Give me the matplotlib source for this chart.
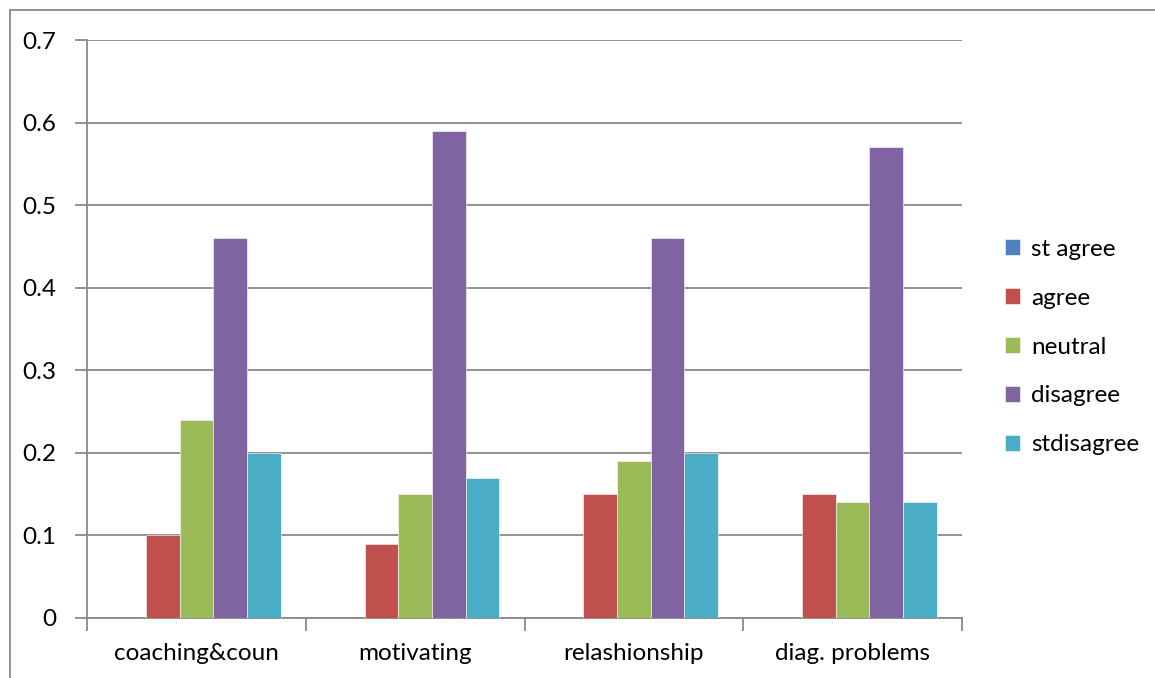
import numpy as np
import matplotlib
matplotlib.use("Agg")
import matplotlib.pyplot as plt
from matplotlib.patches import Rectangle

plt.rcParams['font.family'] = ['Lato', 'DejaVu Sans']

categories = ['coaching&coun', 'motivating', 'relashionship', 'diag. problems']
series_names = ['st agree', 'agree', 'neutral', 'disagree', 'stdisagree']
st_agree = [0, 0, 0, 0]
agree = [0.10, 0.09, 0.15, 0.15]
neutral = [0.24, 0.15, 0.19, 0.14]
disagree = [0.46, 0.59, 0.46, 0.57]
stdisagree = [0.20, 0.17, 0.20, 0.14]
colors = ['#4F81BD', '#C0504D', '#9BBB59', '#8064A2', '#4BACC6']


def draw_chart():
    fig = plt.figure(figsize=(11.55, 6.78), dpi=100)
    W, H = 1155, 678
    fs = 17.5
    # outer chart frame
    fig.patches.append(Rectangle((10 / W, -0.1), 1.2, 1 - 10 / H + 0.1, transform=fig.transFigure,
                                 fill=False, edgecolor='#898989', lw=1.3))
    ax = fig.add_axes([87 / W, 1 - 618 / H, (962 - 87) / W, (618 - 40) / H])

    data = [st_agree, agree, neutral, disagree, stdisagree]
    x = np.arange(len(categories))
    width = 1 / 6.5
    for i, vals in enumerate(data):
        offs = (i - 2) * width
        ax.bar(x + offs, vals, width=width, color=colors[i], edgecolor='white', lw=0.4,
               label=series_names[i], zorder=3)

    ax.set_xlim(-0.5, len(categories) - 0.5)
    ax.set_ylim(0, 0.7)
    ax.set_yticks(np.arange(0, 0.71, 0.1))
    ax.set_yticklabels(['0'] + ['%.1f' % v for v in np.arange(0.1, 0.71, 0.1)])
    ax.yaxis.grid(True, color='#898989', lw=1.3, zorder=0)
    ax.set_xticks(x)
    ax.set_xticklabels(categories)
    ax.set_xticks(np.arange(-0.5, len(categories)), minor=True)
    ax.tick_params(axis='x', which='major', length=0, pad=18, labelsize=fs)
    ax.tick_params(axis='x', which='minor', length=9, width=1.3, color='#898989', direction='out')
    ax.tick_params(axis='y', length=9, width=1.3, color='#898989', pad=13, labelsize=fs)
    for s in ['top', 'right']:
        ax.spines[s].set_visible(False)
    for s in ['left', 'bottom']:
        ax.spines[s].set_color('#898989')
        ax.spines[s].set_linewidth(1.3)

    ax.legend(loc='center left', bbox_to_anchor=(983 / W, 1 - 347 / H), bbox_transform=fig.transFigure,
              frameon=False, fontsize=fs, handlelength=0.62, handleheight=0.62, handletextpad=0.45,
              labelspacing=1.15)
    fig.savefig('out.png', dpi=100)


if __name__ == "__main__":
    draw_chart()
